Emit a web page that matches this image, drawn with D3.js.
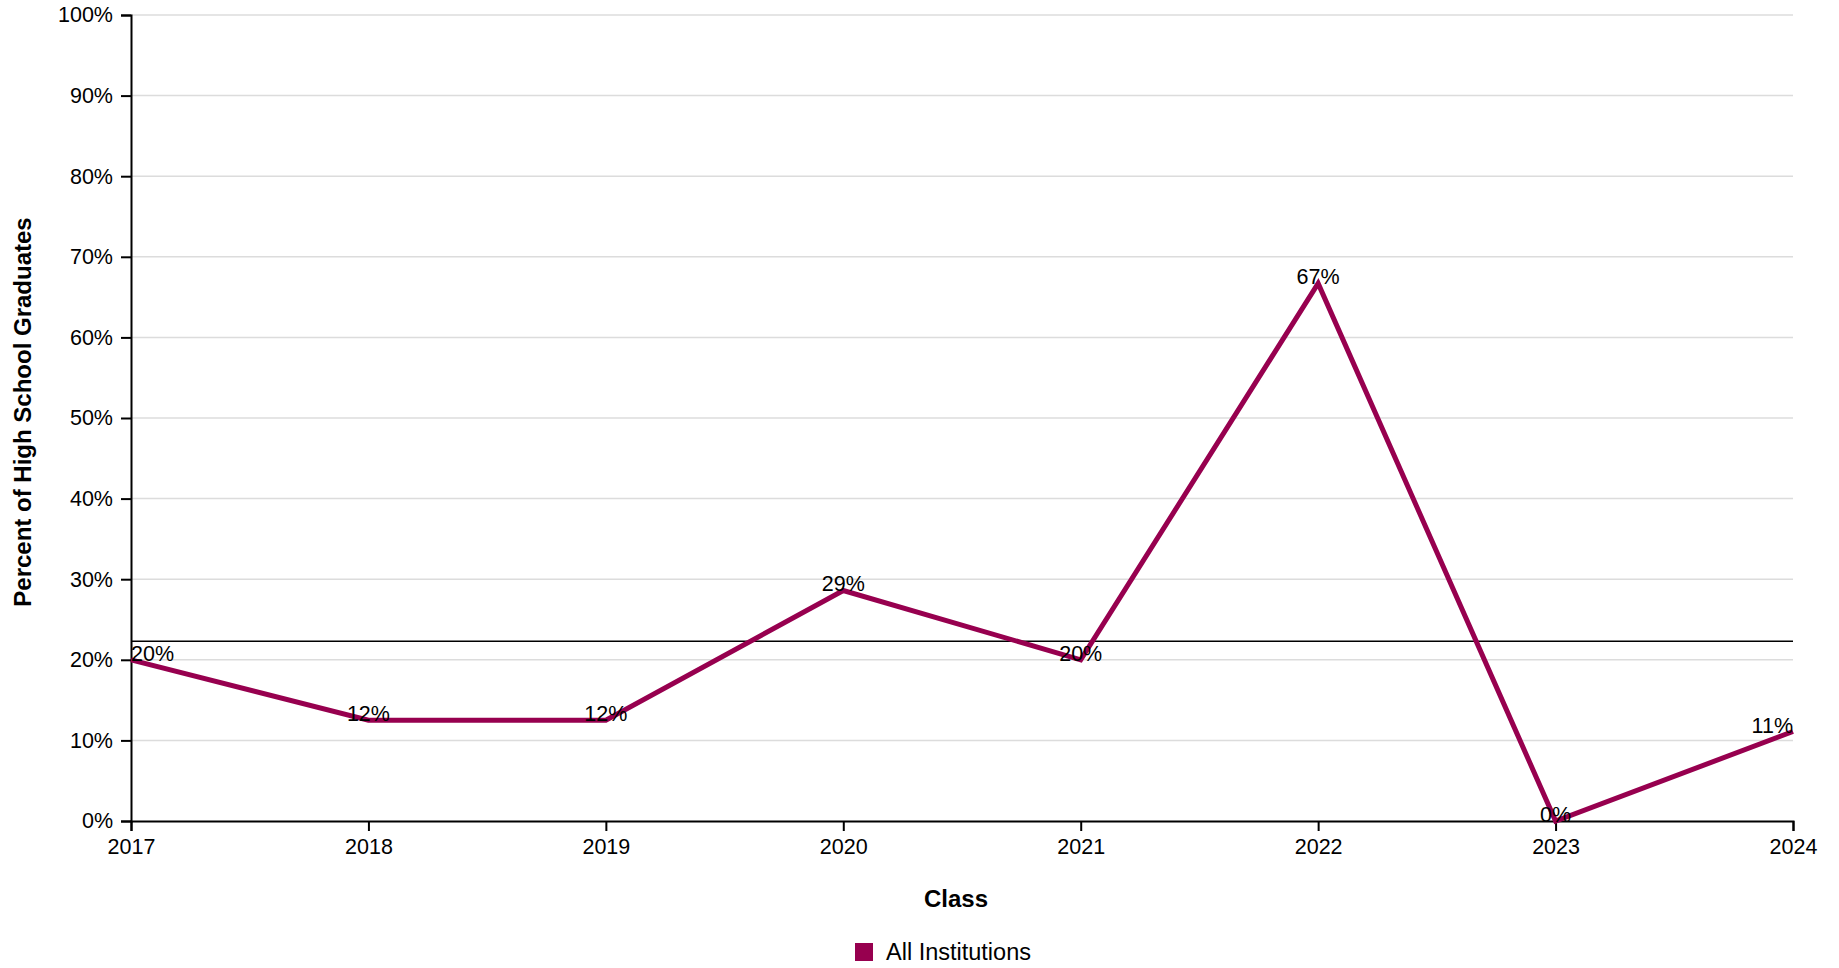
<!DOCTYPE html>
<html><head><meta charset="utf-8">
<script src="https://cdn.jsdelivr.net/npm/d3@7"></script>
<style>body{margin:0;background:#fff}svg{display:block;font-family:"Liberation Sans",Arial,sans-serif}</style>
</head><body>
<svg id="c" width="1839" height="968"></svg>
<script>
const years = ["2017","2018","2019","2020","2021","2022","2023","2024"];
const values = [20, 12.5, 12.5, 28.6, 20, 66.7, 0, 11.1];
const labels = ["20%","12%","12%","29%","20%","67%","0%","11%"];
const yTicks = [0,10,20,30,40,50,60,70,80,90,100];
const averageValue = 22.3;
const seriesName = "All Institutions";

const svg = d3.select("#c");
const L = 131, R = 1793, T = 15, B = 821;
const x = d3.scalePoint().domain(years).range([L, R]);
const y = d3.scaleLinear().domain([0, 100]).range([B, T]);
const color = "#97004f";

// grid
svg.append("g").selectAll("line").data(yTicks.filter(d => d > 0)).join("line")
  .attr("x1", L).attr("x2", R).attr("y1", d => y(d)).attr("y2", d => y(d))
  .attr("stroke", "#dcdcdc").attr("stroke-width", 1.5);

// axes
const yAxis = svg.append("g").attr("transform", `translate(${L},0)`)
  .call(d3.axisLeft(y).tickValues(yTicks).tickFormat(d => d + "%").tickSize(10).tickPadding(8));
const xAxis = svg.append("g").attr("transform", `translate(0,${B})`)
  .call(d3.axisBottom(x).tickSize(10).tickPadding(8));
[yAxis, xAxis].forEach(g => {
  g.selectAll("path").attr("stroke", "#000").attr("stroke-width", 2);
  g.selectAll("line").attr("stroke", "#000").attr("stroke-width", 2);
  g.selectAll("text").attr("fill", "#000").style("font-size", "21.5px").style("font-family", '"Liberation Sans",Arial,sans-serif');
});

// average line
svg.append("line").attr("x1", L).attr("x2", R).attr("y1", y(averageValue)).attr("y2", y(averageValue))
  .attr("stroke", "#000").attr("stroke-width", 1.6);

// series line
const line = d3.line().x((d, i) => x(years[i])).y(d => y(d));
svg.append("path").datum(values).attr("d", line).attr("fill", "none")
  .attr("stroke", color).attr("stroke-width", 5).attr("stroke-linejoin", "miter");

// value labels
svg.append("g").selectAll("text").data(values).join("text")
  .attr("x", (d, i) => x(years[i]))
  .attr("y", d => y(d) + 1)
  .attr("text-anchor", (d, i) => i === 0 ? "start" : (i === values.length - 1 ? "end" : "middle"))
  .style("font-size", "21.5px").attr("fill", "#000")
  .text((d, i) => labels[i]);

// axis titles
svg.append("text").attr("x", 956).attr("y", 907).attr("text-anchor", "middle")
  .style("font-size", "24px").style("font-weight", "bold").text("Class");
svg.append("text").attr("transform", `translate(31,${(T + B) / 2 - 6}) rotate(-90)`)
  .attr("text-anchor", "middle").style("font-size", "24px").style("font-weight", "bold")
  .text("Percent of High School Graduates");

// legend
const lg = svg.append("g").attr("transform", "translate(855,943)");
lg.append("rect").attr("width", 18).attr("height", 18).attr("fill", color);
lg.append("text").attr("x", 31).attr("y", 17).style("font-size", "23.5px").text(seriesName);
</script>
</body></html>
